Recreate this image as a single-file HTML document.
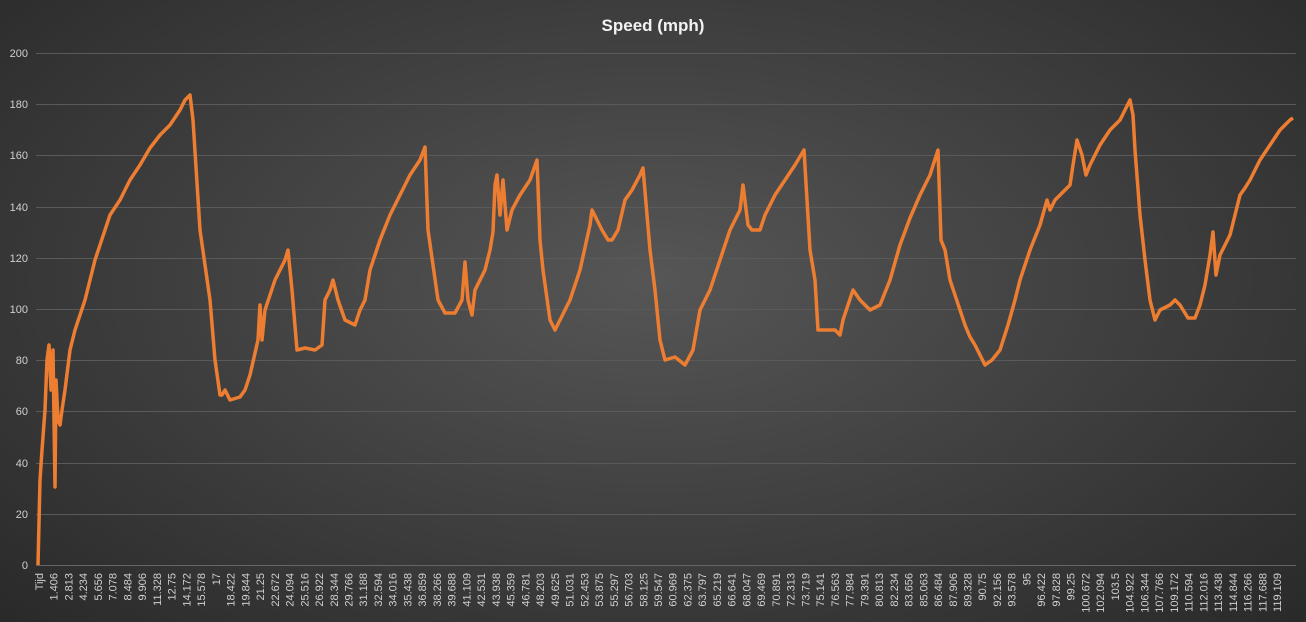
<!DOCTYPE html>
<html><head><meta charset="utf-8"><style>
html,body{margin:0;padding:0;width:1306px;height:622px;overflow:hidden}
body{background:radial-gradient(ellipse 75% 85% at 50% 45%,#565656 0%,#3e3e3e 50%,#262626 100%);font-family:"Liberation Sans",sans-serif}
</style></head><body>
<svg width="1306" height="622" xmlns="http://www.w3.org/2000/svg" style="position:absolute;left:0;top:0">
<text x="653" y="31" text-anchor="middle" fill="#f2f2f2" font-size="17" font-weight="bold" font-family="Liberation Sans, sans-serif">Speed  (mph)</text>
<g stroke="#5a5a5a" stroke-width="1">
<line x1="36" x2="1296" y1="53.5" y2="53.5"/><line x1="36" x2="1296" y1="104.5" y2="104.5"/><line x1="36" x2="1296" y1="155.5" y2="155.5"/><line x1="36" x2="1296" y1="207.5" y2="207.5"/><line x1="36" x2="1296" y1="258.5" y2="258.5"/><line x1="36" x2="1296" y1="309.5" y2="309.5"/><line x1="36" x2="1296" y1="360.5" y2="360.5"/><line x1="36" x2="1296" y1="411.5" y2="411.5"/><line x1="36" x2="1296" y1="463.5" y2="463.5"/><line x1="36" x2="1296" y1="514.5" y2="514.5"/>
</g>
<line x1="36" x2="1296" y1="565.5" y2="565.5" stroke="#666" stroke-width="1"/>
<g fill="#d0d0d0" font-size="11" text-anchor="end" font-family="Liberation Sans, sans-serif">
<text x="28" y="57">200</text><text x="28" y="108">180</text><text x="28" y="159">160</text><text x="28" y="211">140</text><text x="28" y="262">120</text><text x="28" y="313">100</text><text x="28" y="364">80</text><text x="28" y="415">60</text><text x="28" y="467">40</text><text x="28" y="518">20</text><text x="28" y="569">0</text>
</g>
<g id="xl" fill="#d0d0d0" font-size="11" text-anchor="end" font-family="Liberation Sans, sans-serif"></g>
<polyline fill="none" stroke="#ed7d31" stroke-width="3.5" stroke-linejoin="round" points="38,565 40,480 42,450 45,410 47,360 49,345 51,390 53,350 55,487 56,380 58,420 60,425 62,410 65,390 70,350 75,330 80,315 85,300 90,280 95,260 100,245 110,215 120,200 130,180 140,165 150,148 160,135 170,125 180,110 185,100 190,95 193,120 200,230 210,300 215,360 220,395 222,395 225,390 230,400 240,397 245,390 250,375 258,340 260,305 262,340 265,310 275,280 285,260 288,250 292,290 297,350 305,348 315,350 322,345 325,300 330,290 333,280 338,300 345,320 355,325 360,310 365,300 370,270 380,240 390,215 400,195 410,175 420,160 425,147 428,230 433,265 438,300 445,313 455,313 462,300 465,262 468,300 472,315 475,290 480,280 485,270 490,250 493,232 495,185 497,175 500,215 503,180 507,230 512,210 520,195 530,180 537,160 540,240 543,270 550,320 555,330 560,320 570,300 580,270 590,225 592,210 597,220 602,230 608,240 612,240 618,230 625,200 632,190 640,175 643,168 650,250 655,290 660,340 665,360 675,357 685,365 693,350 700,310 710,290 720,260 730,230 740,210 743,185 748,225 752,230 760,230 765,215 775,195 785,180 795,165 804,150 810,250 815,280 818,330 825,330 835,330 840,335 843,320 848,305 853,290 860,300 870,310 880,305 890,280 900,245 910,218 920,195 930,175 938,150 941,240 945,250 950,280 960,310 965,325 970,337 975,345 985,365 992,360 1000,350 1008,325 1015,300 1020,280 1030,250 1040,225 1047,200 1050,210 1055,200 1060,195 1065,190 1070,185 1073,165 1077,140 1082,155 1086,175 1090,165 1100,145 1110,130 1120,120 1130,100 1133,115 1135,150 1140,215 1145,260 1150,300 1155,320 1160,310 1170,305 1175,300 1180,305 1188,318 1195,318 1200,305 1205,285 1210,255 1213,232 1216,275 1220,255 1230,235 1240,195 1245,188 1250,180 1260,160 1270,145 1280,130 1290,120 1293,118"/>
</svg>
<script>
var L="Tijd 1.406 2.813 4.234 5.656 7.078 8.484 9.906 11.328 12.75 14.172 15.578 17 18.422 19.844 21.25 22.672 24.094 25.516 26.922 28.344 29.766 31.188 32.594 34.016 35.438 36.859 38.266 39.688 41.109 42.531 43.938 45.359 46.781 48.203 49.625 51.031 52.453 53.875 55.297 56.703 58.125 59.547 60.969 62.375 63.797 65.219 66.641 68.047 69.469 70.891 72.313 73.719 75.141 76.563 77.984 79.391 80.813 82.234 83.656 85.063 86.484 87.906 89.328 90.75 92.156 93.578 95 96.422 97.828 99.25 100.672 102.094 103.5 104.922 106.344 107.766 109.172 110.594 112.016 113.438 114.844 116.266 117.688 119.109".split(" ");
var g=document.getElementById("xl"),s="",n=L.length-1,step=(1277-39)/n;
for(var i=0;i<L.length;i++){var x=39+i*step+4;s+='<text transform="translate('+x.toFixed(1)+',573) rotate(-90)">'+L[i]+'</text>';}
g.innerHTML=s;
</script>
</body></html>
